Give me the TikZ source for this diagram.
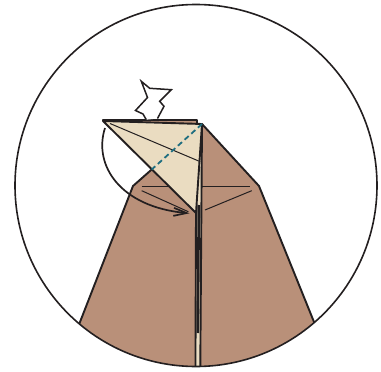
\documentclass[tikz,border=0pt]{standalone}
\usetikzlibrary{arrows.meta}
\definecolor{paperbrown}{RGB}{185,144,121}
\definecolor{paperlight}{RGB}{234,220,193}
\definecolor{inkline}{RGB}{35,31,32}
\definecolor{creaseteal}{RGB}{31,110,128}
\tikzset{
  edge/.style={draw=inkline, line width=1.9pt, line join=round},
  thin crease/.style={draw=inkline, line width=1pt},
  valley/.style={draw=creaseteal, line width=1.8pt, dash pattern=on 5.5pt off 3.5pt},
  motion/.style={draw=inkline, line width=1.7pt, -{Straight Barb[length=13pt,width=8pt,line width=1.7pt]}},
  sinkarrow/.style={draw=inkline, line width=1.5pt, line join=miter},
}
\begin{document}
\begin{tikzpicture}[x=1pt,y=-1pt]
\useasboundingbox (0,0) rectangle (381,372);

% key points of the model
\coordinate (A) at (103,121);   % top-left corner of the light flap
\coordinate (B) at (202,124);   % top of the centre line
\coordinate (C) at (196,213);   % bottom tip of the light flap
\coordinate (D) at (151.7,169.5); % end of the valley fold on edge AC
\coordinate (LS) at (133,186);  % left shoulder
\coordinate (RS) at (259,186);  % right shoulder

% paper layers, clipped to the circle
\begin{scope}
  \clip (196,185.5) circle[radius=181];
  % light strip between the two flaps
  \fill[paperlight] (C) -- (195.4,380) -- (200.2,380) -- (B) -- cycle;
  % right flap
  \fill[paperbrown] (B) -- (RS) -- (337.5,380) -- (200.2,380) -- cycle;
  \draw[edge] (B) -- (RS) -- (337.5,380);
  \draw[edge] (B) -- (200.2,380);
  % left flap
  \fill[paperbrown] (D) -- (LS) -- (57.4,380) -- (195.4,380) -- (C) -- cycle;
  \draw[edge] (D) -- (LS) -- (57.4,380);
  \draw[edge] (C) -- (195.4,380);
  % inner layer edge along the centre
  \draw[inkline, line width=2.6pt] (198.8,205) -- (197.8,333);
\end{scope}

% back layer showing above the light flap
\fill[paperbrown] (A) -- (103,119.8) -- (197,119.8) -- (197,123.5) -- cycle;
\draw[edge] (A) -- (103,119.8) -- (197,119.8) -- (197,123.5);

% light triangular flap
\fill[paperlight] (A) -- (B) -- (C) -- cycle;
\draw[edge] (A) -- (B) -- (C) -- cycle;
\draw[thin crease] (110,123.5) -- (200.3,161.7);
\draw[valley] (B) -- (D);

% creases on the brown flaps
\draw[thin crease] (141.7,186.7) -- (169.2,186.7);
\draw[thin crease] (201.7,186.7) -- (250,186.7);
\draw[thin crease] (141.7,190.7) -- (188.3,211.7);
\draw[thin crease] (205,210) -- (251.7,190.7);

% outline circle
\draw[inkline, line width=1.6pt] (196,185.5) circle[radius=181];

% hollow sink arrow
\coordinate (s1) at (146.3,119.7);
\coordinate (s2) at (143,114);
\coordinate (s3) at (135.5,110.5);
\coordinate (s4) at (147.5,97.5);
\coordinate (s5) at (141.3,81.3);
\coordinate (s6) at (149.7,88.3);
\coordinate (s7) at (171.3,89.7);
\coordinate (s8) at (159.7,101.3);
\coordinate (s9) at (164,106.3);
\coordinate (s10) at (157.5,118.5);
\fill[white] (s1) -- (s2) -- (s3) -- (s4) -- (s5) -- (s6) -- (s7) -- (s8) -- (s9) -- (s10) -- cycle;
\draw[sinkarrow] (s1) -- (s2) -- (s3) -- (s4) -- (s5) -- (s6) -- (s7) -- (s8) -- (s9) -- (s10);

% folding motion arrow
\coordinate (m0) at (105,128);
\coordinate (m1) at (189.5,213.3);
\draw[motion] (m0) .. controls (93,165) and (120,207) .. (m1);
\end{tikzpicture}
\end{document}
